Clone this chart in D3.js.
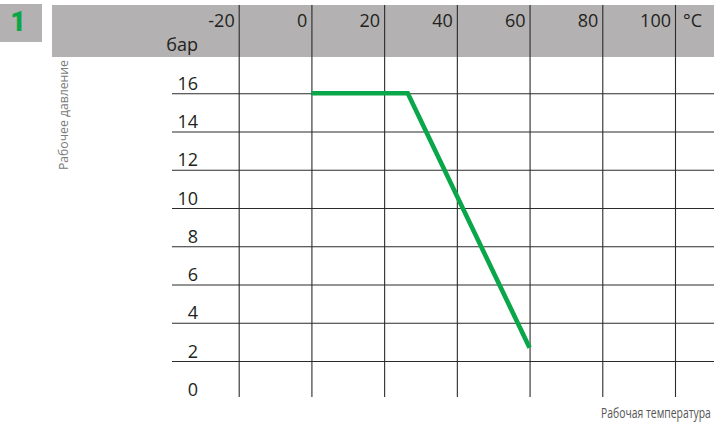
<!DOCTYPE html>
<html><head><meta charset="utf-8">
<script src="https://cdn.jsdelivr.net/npm/d3@7"></script>
<style>
html,body{margin:0;padding:0;background:#fff;}
svg{display:block;}
text{font-family:"Open Sans","Noto Sans",sans-serif;fill:#231f20;}
</style></head><body>
<svg id="c" width="714" height="423"></svg>
<script>
const tempTicks = [-20, 0, 20, 40, 60, 80, 100];
const pressureTicks = [2, 4, 6, 8, 10, 12, 14, 16];
const pressureLabels = [0, 2, 4, 6, 8, 10, 12, 14, 16];
const curveTemp = [0, 26.5, 60];
const curvePressure = [16, 16, 2.7];
const xUnit = "°C";
const yUnit = "бар";
const xTitle = "Рабочая температура";
const yTitle = "Рабочее давление";
const badge = "1";

const svg = d3.select("#c");
const x = d3.scaleLinear().domain([-20, 100]).range([238.7, 675]);
const y = d3.scaleLinear().domain([0, 16]).range([399.3, 93.3]);

// badge
svg.append("rect").attr("x",0).attr("y",4).attr("width",42).attr("height",38).attr("fill","#b3b1b1");
svg.append("text").attr("x",18).attr("y",31).attr("text-anchor","middle")
  .style("font-family","Roboto, sans-serif").style("font-weight","900").style("font-size","27px")
  .style("fill","#0aa64a").text(badge);

// header band
svg.append("rect").attr("x",52).attr("y",5).attr("width",662).attr("height",52).attr("fill","#b3b1b1");

// horizontal gridlines via axis
const gy = svg.append("g").attr("transform","translate(714,0)")
  .call(d3.axisLeft(y).tickValues(pressureTicks).tickSize(542).tickFormat(""));
gy.select(".domain").remove();
gy.selectAll(".tick line").attr("stroke","#2b2b2b").attr("stroke-width",1.1);

// vertical gridlines via axis
const gx = svg.append("g").attr("transform","translate(0,5)")
  .call(d3.axisBottom(x).tickValues(tempTicks).tickSize(392).tickFormat(""));
gx.select(".domain").remove();
gx.selectAll(".tick line").attr("stroke","#2b2b2b").attr("stroke-width",1.1);

// x tick labels in header
svg.append("g").selectAll("text").data(tempTicks).join("text")
  .attr("x", d => x(d) - 4).attr("y", 26.5).attr("text-anchor","end")
  .style("font-size","18px").text(d => d);
svg.append("text").attr("x", x(100) + 8).attr("y", 26.5).style("font-size","18px").text(xUnit);

// y unit
svg.append("text").attr("x", 198).attr("y", 50.5).attr("text-anchor","end").style("font-size","18px").text(yUnit);

// y tick labels
svg.append("g").selectAll("text").data(pressureLabels).join("text")
  .attr("x", 198).attr("y", d => y(d) - 3.5).attr("text-anchor","end")
  .style("font-size","18px").text(d => d);

// curve
const pts = curveTemp.map((t,i) => [t, curvePressure[i]]);
svg.append("path").datum(pts)
  .attr("d", d3.line().x(d => x(d[0])).y(d => y(d[1])))
  .attr("fill","none").attr("stroke","#0aa64a").attr("stroke-width",4.6)
  .attr("stroke-linejoin","miter");

// axis titles (condensed by horizontal scaling)
function condensed(g, str, size, color, targetW) {
  const t = g.append("text").attr("x",0).attr("y",0).style("font-size", size + "px").style("fill", color).text(str);
  const w = t.node().getComputedTextLength();
  t.attr("transform", `scale(${targetW / w},1)`);
  return t;
}
const yt = svg.append("g").attr("transform","translate(68,170) rotate(-90)");
condensed(yt, yTitle, 13, "#7a7a7a", 110);
const xt = svg.append("g").attr("transform","translate(601,418)");
condensed(xt, xTitle, 14, "#555", 110);
</script>
</body></html>
